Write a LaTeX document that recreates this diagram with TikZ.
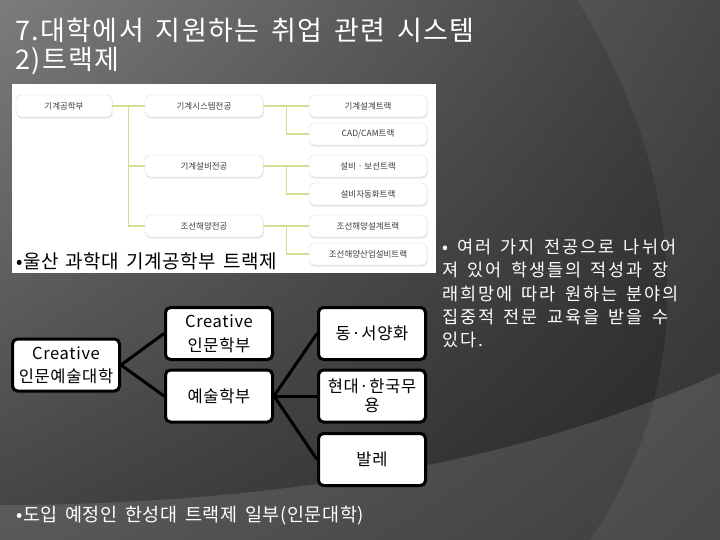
\documentclass[tikz,border=0pt]{standalone}
\usepackage{fontspec}
\setmainfont{Noto Sans CJK KR}
\newfontfamily\titlefont[LetterSpace=5.2,WordSpace=1.6]{Noto Sans CJK KR}
\newfontfamily\bulletfont[LetterSpace=2.3,WordSpace=1.6]{Noto Sans CJK KR}
\newfontfamily\capfont[LetterSpace=3.3,WordSpace=1.6]{Noto Sans CJK KR}
\newfontfamily\notefont[LetterSpace=11,WordSpace=1.6]{Noto Sans CJK KR}
\newfontfamily\hboxfont[LetterSpace=4]{Noto Sans CJK KR}
\usetikzlibrary{positioning,shadows,shadings}

\definecolor{bgtl}{RGB}{124,124,124}
\definecolor{bgtr}{RGB}{60,60,60}
\definecolor{bgbl}{RGB}{66,66,66}
\definecolor{bgbr}{RGB}{36,36,36}
\definecolor{trackline}{RGB}{214,222,150}
\definecolor{boxtext}{RGB}{60,60,60}

\tikzset{
  title/.style={anchor=west, text=white, inner sep=0pt, font=\titlefont\fontsize{27}{31}\selectfont},
  bullet/.style={anchor=west, inner sep=0pt, font=\bulletfont\fontsize{19}{23}\selectfont},
  imgbox/.style={draw=gray!30, fill=white, rounded corners=5pt, minimum width=118pt,
    minimum height=22pt, inner sep=1pt, text=boxtext, font=\fontsize{8.5}{10}\selectfont,
    drop shadow={opacity=0.18, shadow xshift=0.6pt, shadow yshift=-1.6pt}},
  trk/.style={draw=trackline, line width=1.2pt},
  hbox/.style={draw=black, line width=3pt, fill=white, rounded corners=5pt, minimum width=107pt,
    minimum height=52pt, inner sep=1pt, align=center, font=\hboxfont\fontsize{16.5}{23.5}\selectfont},
  hlink/.style={draw=black, line width=3pt},
}

\begin{document}
\begin{tikzpicture}[x=1pt, y=-1pt]
    % 배경
    \shade[upper left=bgtl, upper right=bgtr, lower left=bgbl, lower right=bgbr] (0,0) rectangle (720,540);
    \useasboundingbox (0,0) rectangle (720,540);
    \fill[white, opacity=0.06] (577,0) .. controls (690,180) and (700,380) .. (590,540) -- (720,540) -- (720,0) -- cycle;
    \fill[white, opacity=0.12] (0,505) .. controls (200,505) and (480,482) .. (720,373) -- (720,540) -- (0,540) -- cycle;

    % 제목
    \node[title] (title) at (15,30) {7.대학에서 지원하는 취업 관련 시스템};
    \node[title] (subtitle) at (15,61) {2)트랙제};

    % 울산 과학대 트랙 그림
    \fill[white] (12,84) rectangle (436,273);
    \node[imgbox, minimum width=96pt] (mech) at (64,106) {기계공학부};
    \node[imgbox] (msys) at (204,106) {기계시스템전공};
    \node[imgbox] (mequip) at (204,166) {기계설비전공};
    \node[imgbox] (ship) at (204,226) {조선해양전공};
    \node[imgbox] (tdesign) at (368,106) {기계설계트랙};
    \node[imgbox] (tcad) at (368,134) {CAD/CAM트랙};
    \node[imgbox] (tequip) at (368,166) {설비 · 보선트랙};
    \node[imgbox] (tauto) at (368,194) {설비자동화트랙};
    \node[imgbox] (tship) at (368,226) {조선해양설계트랙};
    \node[imgbox] (tplant) at (368,254) {조선해양산업설비트랙};
    \draw[trk] (mech.east) -- (msys.west);
    \draw[trk] (mech.east) -- ++(16,0) |- (mequip.west);
    \draw[trk] (mech.east) -- ++(16,0) |- (ship.west);
    \draw[trk] (msys.east) -- (tdesign.west);
    \draw[trk] (msys.east) -- ++(23,0) |- (tcad.west);
    \draw[trk] (mequip.east) -- (tequip.west);
    \draw[trk] (mequip.east) -- ++(23,0) |- (tauto.west);
    \draw[trk] (ship.east) -- (tship.west);
    \draw[trk] (ship.east) -- ++(23,0) |- (tplant.west);
    \node[bullet, text=black] (ulsan) at (16,261) {•울산 과학대 기계공학부 트랙제};

    % 한성대 트랙제
    \node[hbox] (college) at (66,365) {Creative\\인문예술대학};
    \node[hbox] (human) at (219,333.5) {Creative\\인문학부};
    \node[hbox] (arts) at (219,396) {예술학부};
    \node[hbox] (paint) at (372,333.5) {동·서양화};
    \node[hbox, font=\hboxfont\fontsize{16.5}{19.5}\selectfont] (dance) at (372,396) {현대·한국무\\용};
    \node[hbox] (ballet) at (372,459.5) {발레};
    \draw[hlink] (college.east) -- (human.west);
    \draw[hlink] (college.east) -- (arts.west);
    \draw[hlink] (arts.east) -- (paint.west);
    \draw[hlink] (arts.east) -- (dance.west);
    \draw[hlink] (arts.east) -- (ballet.west);
    \node[bullet, text=white, font=\capfont\fontsize{18.5}{22}\selectfont] (hansung) at (16,516) {•도입 예정인 한성대 트랙제 일부(인문대학)};

    % 설명
    \node[anchor=north west, inner sep=0pt, align=left, text=white, font=\notefont\fontsize{17.5}{23.2}\selectfont]
      (note) at (442,239) {• 여러 가지 전공으로 나뉘어\\져 있어 학생들의 적성과 장\\래희망에 따라 원하는 분야의\\집중적 전문 교육을 받을 수\\있다.};
\end{tikzpicture}
\end{document}
